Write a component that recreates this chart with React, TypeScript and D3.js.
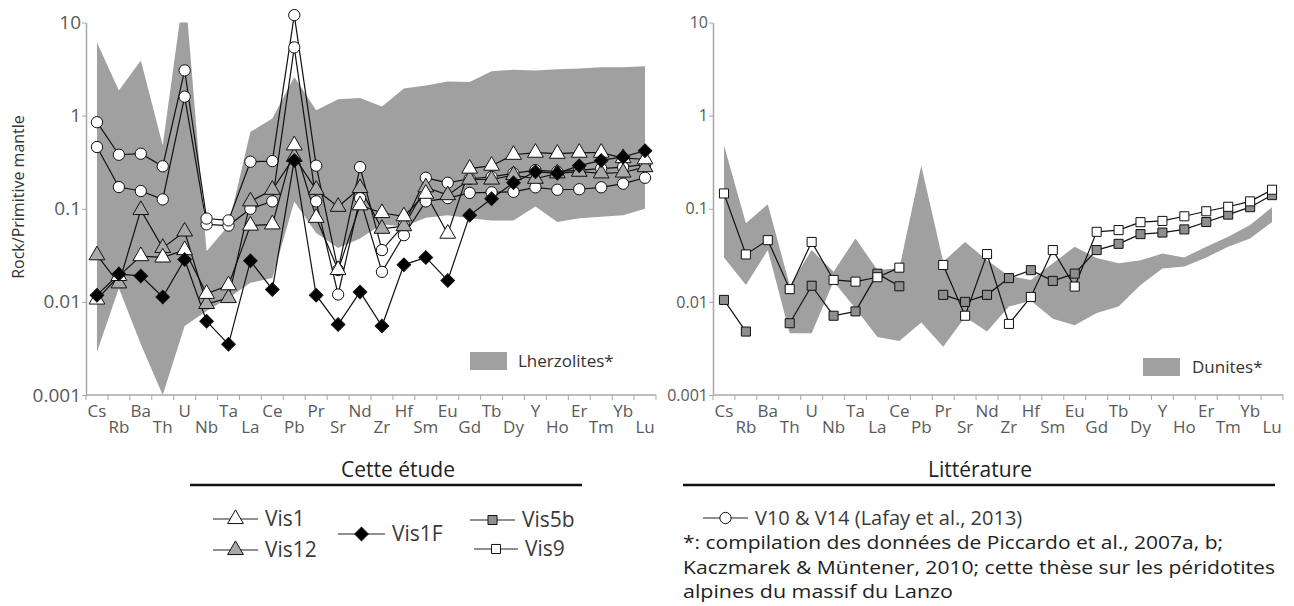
import { useEffect, useRef } from "react";
import * as d3 from "d3";

const elements = [
  "Cs", "Rb", "Ba", "Th", "U", "Nb", "Ta", "La", "Ce", "Pb", "Pr", "Sr", "Nd",
  "Zr", "Hf", "Sm", "Eu", "Gd", "Tb", "Dy", "Y", "Ho", "Er", "Tm", "Yb", "Lu",
];

const yTicks = [0.001, 0.01, 0.1, 1, 10];
const yTickLabels = ["0.001", "0.01", "0.1", "1", "10"];

// Lherzolites envelope (left panel)
const lherzoliteMax = [6.1, 1.86, 3.9, 0.48, 25, 0.035, 0.066, 0.67, 0.93, 2.6, 1.14, 1.5, 1.55,
  1.25, 1.96, 2.1, 2.33, 2.3, 3.0, 3.1, 3.06, 3.15, 3.2, 3.3, 3.3, 3.4];
const lherzoliteMin = [0.0029, 0.014, 0.0035, 0.001, 0.0055, 0.008, 0.011, 0.016, 0.018, 0.12, 0.055, 0.038, 0.048,
  0.068, 0.064, 0.08, 0.085, 0.079, 0.075, 0.075, 0.106, 0.072, 0.079, 0.082, 0.085, 0.1];

// Cette étude
const vis1 = [0.0106, 0.019, 0.031, 0.03, 0.036, 0.0122, 0.0151, 0.066, 0.068, 0.48, 0.08, 0.022, 0.109,
  0.09, 0.083, 0.145, 0.054, 0.27, 0.29, 0.38, 0.4, 0.39, 0.4, 0.4, 0.35, 0.34];
const vis12 = [0.0317, 0.0158, 0.097, 0.038, 0.057, 0.0095, 0.011, 0.12, 0.16, 0.36, 0.16, 0.105, 0.167,
  0.061, 0.065, 0.17, 0.14, 0.206, 0.206, 0.23, 0.21, 0.24, 0.25, 0.24, 0.245, 0.28];
const vis1F = [0.0118, 0.0199, 0.019, 0.0113, 0.0285, 0.0062, 0.0035, 0.0276, 0.0136, 0.33, 0.0118, 0.0057, 0.0128,
  0.0055, 0.025, 0.03, 0.017, 0.085, 0.128, 0.19, 0.25, 0.24, 0.29, 0.33, 0.36, 0.42];

// Littérature (Lafay et al., 2013)
const v14 = [0.85, 0.38, 0.39, 0.286, 3.06, 0.0785, 0.075, 0.32, 0.325, 12, 0.29, 0.022, 0.28,
  0.036, 0.067, 0.215, 0.19, 0.21, 0.22, 0.24, 0.26, 0.25, 0.26, 0.27, 0.28, 0.3];
const v10 = [0.46, 0.171, 0.155, 0.126, 1.6, 0.068, 0.066, 0.1, 0.12, 5.4, 0.12, 0.012, 0.13,
  0.021, 0.052, 0.12, 0.13, 0.148, 0.15, 0.152, 0.17, 0.16, 0.162, 0.17, 0.186, 0.215];

// Dunites envelope (right panel)
const duniteMax = [0.48, 0.07, 0.112, 0.015, 0.036, 0.021, 0.048, 0.022, 0.023, 0.29, 0.027, 0.044, 0.028,
  0.019, 0.0172, 0.026, 0.039, 0.0295, 0.026, 0.028, 0.033, 0.03, 0.039, 0.05, 0.067, 0.104];
const duniteMin = [0.03, 0.0152, 0.036, 0.0046, 0.0046, 0.0165, 0.0085, 0.0042, 0.0038, 0.006, 0.0033, 0.0069, 0.0048,
  0.0089, 0.0103, 0.0066, 0.0056, 0.0076, 0.0089, 0.0152, 0.0228, 0.024, 0.03, 0.039, 0.048, 0.072];

const vis5b = [0.0105, 0.0048, null, 0.0059, 0.0149, 0.0071, 0.0079, 0.0201, 0.0147, null, 0.0119, 0.01, 0.0119,
  0.018, 0.0219, 0.0168, 0.0201, 0.036, 0.042, 0.0534, 0.0555, 0.06, 0.072, 0.0865, 0.104, 0.14];
const vis9 = [0.146, 0.0323, 0.046, 0.0137, 0.044, 0.0172, 0.0165, 0.0184, 0.0233, null, 0.0249, 0.0071, 0.0326,
  0.0058, 0.0113, 0.036, 0.0146, 0.0565, 0.059, 0.0718, 0.074, 0.083, 0.094, 0.105, 0.12, 0.16];

const notes = [
  "*: compilation des données de Piccardo et al., 2007a, b;",
  "Kaczmarek & Müntener, 2010; cette thèse sur les péridotites",
  "alpines du massif du Lanzo",
];
const noteWidths = [540, 592, 270];

const BAND = "#a0a0a0";
const AXIS = "#a8a8a8";
const TICK_TEXT = "#5a5a5a";
const FONT = "'Open Sans', sans-serif";

type Marker = "triangle" | "diamond" | "circle" | "square";
interface Series {
  values: (number | null)[];
  marker: Marker;
  fill: string;
}

const symbolFor = (m: Marker) => {
  if (m === "triangle") return d3.symbol().type(d3.symbolTriangle).size(108)();
  if (m === "circle") return d3.symbol().type(d3.symbolCircle).size(100)();
  if (m === "diamond") return d3.symbol().type(d3.symbolSquare).size(92)();
  return d3.symbol().type(d3.symbolSquare).size(82)();
};

function drawMarker(g: any, m: Marker, x: number, y: number, fill: string) {
  g.append("path")
    .attr("d", symbolFor(m))
    .attr("transform", `translate(${x},${y})${m === "diamond" ? " rotate(45)" : ""}`)
    .attr("fill", fill)
    .attr("stroke", "#111")
    .attr("stroke-width", 1);
}

function drawPanel(svg: any, id: string, x0: number, x1: number, yFont: number,
  bandMax: number[], bandMin: number[], series: Series[]) {
  const top = 22.5;
  const bottom = 395;
  const x = d3.scaleBand<string>().domain(elements).range([x0, x1]);
  const cx = (i: number) => (x(elements[i]) || 0) + x.bandwidth() / 2;
  const y = d3.scaleLog().domain([0.001, 10]).range([bottom, top]);

  svg.append("clipPath").attr("id", id)
    .append("rect").attr("x", x0).attr("y", top).attr("width", x1 - x0).attr("height", bottom - top);

  const area = d3.area<number>()
    .x((_, i) => cx(i))
    .y0((_, i) => y(bandMin[i]))
    .y1((d) => y(d));
  svg.append("path")
    .attr("d", area(bandMax))
    .attr("fill", BAND)
    .attr("clip-path", `url(#${id})`);

  // y axis
  const ya = svg.append("g")
    .attr("transform", `translate(${x0},0)`)
    .call(d3.axisLeft(y).tickValues(yTicks).tickFormat((_, i) => yTickLabels[i]).tickSize(4).tickSizeOuter(0));
  ya.select(".domain").attr("stroke", AXIS).attr("stroke-width", 1.5);
  ya.selectAll(".tick line").attr("stroke", AXIS);
  ya.selectAll(".tick text")
    .attr("fill", TICK_TEXT)
    .attr("font-size", yFont)
    .attr("font-family", FONT)
    .attr("x", -5);

  // x axis, ticks between categories
  svg.append("line")
    .attr("x1", x0).attr("x2", x1).attr("y1", bottom).attr("y2", bottom)
    .attr("stroke", AXIS).attr("stroke-width", 1.5);
  const edges = elements.map((e) => x(e) || 0).concat([x1]);
  svg.selectAll(null).data(edges).enter().append("line")
    .attr("x1", (d: number) => d).attr("x2", (d: number) => d)
    .attr("y1", bottom).attr("y2", bottom + 5)
    .attr("stroke", AXIS);
  svg.selectAll(null).data(elements).enter().append("text")
    .attr("x", (_: string, i: number) => cx(i))
    .attr("y", (_: string, i: number) => (i % 2 === 0 ? 417 : 433))
    .attr("text-anchor", "middle")
    .attr("fill", TICK_TEXT)
    .attr("font-size", 17)
    .attr("font-family", FONT)
    .text((d: string) => d);

  const line = d3.line<number | null>()
    .defined((d) => d != null)
    .x((_, i) => cx(i))
    .y((d) => y(d as number));

  series.forEach((s) => {
    svg.append("path")
      .attr("d", line(s.values))
      .attr("fill", "none")
      .attr("stroke", "#111")
      .attr("stroke-width", 1.2);
  });
  series.forEach((s) => {
    const g = svg.append("g");
    s.values.forEach((v, i) => {
      if (v != null) drawMarker(g, s.marker, cx(i), y(v), s.fill);
    });
  });
}

function legendItem(svg: any, m: Marker, fill: string, xl: number, xr: number, yy: number, label: string, size = 21) {
  svg.append("line").attr("x1", xl).attr("x2", xr).attr("y1", yy).attr("y2", yy)
    .attr("stroke", "#222").attr("stroke-width", 1.2);
  drawMarker(svg, m, (xl + xr) / 2, yy, fill);
  svg.append("text")
    .attr("x", xr + 7).attr("y", yy + 7)
    .attr("font-size", size).attr("font-family", FONT).attr("fill", "#3a3a3a")
    .text(label);
}

export default function App() {
  const ref = useRef<SVGSVGElement>(null);

  useEffect(() => {
    if (!ref.current) return;
    const svg = d3.select(ref.current);
    svg.selectAll("*").remove();

    drawPanel(svg, "clipL", 86, 656, 19, lherzoliteMax, lherzoliteMin, [
      { values: v10, marker: "circle", fill: "#fff" },
      { values: v14, marker: "circle", fill: "#fff" },
      { values: vis12, marker: "triangle", fill: "#a9a9a9" },
      { values: vis1, marker: "triangle", fill: "#fff" },
      { values: vis1F, marker: "diamond", fill: "#000" },
    ]);
    drawPanel(svg, "clipR", 713, 1283, 16, duniteMax, duniteMin, [
      { values: vis5b, marker: "square", fill: "#8e8e8e" },
      { values: vis9, marker: "square", fill: "#fff" },
    ]);

    svg.append("text")
      .attr("transform", "translate(24,197) rotate(-90)")
      .attr("text-anchor", "middle")
      .attr("font-size", 16).attr("font-family", FONT).attr("fill", "#333")
      .text("Rock/Primitive mantle");

    // envelope legends
    svg.append("rect").attr("x", 470).attr("y", 352).attr("width", 37).attr("height", 18).attr("fill", BAND);
    svg.append("text").attr("x", 518).attr("y", 367).attr("font-size", 17).attr("font-family", FONT)
      .attr("fill", "#333").text("Lherzolites*");
    svg.append("rect").attr("x", 1143).attr("y", 358).attr("width", 37).attr("height", 18).attr("fill", BAND);
    svg.append("text").attr("x", 1192).attr("y", 373).attr("font-size", 17).attr("font-family", FONT)
      .attr("fill", "#333").text("Dunites*");

    // bottom legend: Cette étude
    svg.append("text").attr("x", 398).attr("y", 477).attr("text-anchor", "middle")
      .attr("font-size", 21).attr("font-family", FONT).attr("fill", "#222").text("Cette étude");
    svg.append("line").attr("x1", 190).attr("x2", 582).attr("y1", 485).attr("y2", 485)
      .attr("stroke", "#111").attr("stroke-width", 2.5);
    legendItem(svg, "triangle", "#fff", 213, 258, 519, "Vis1");
    legendItem(svg, "triangle", "#a9a9a9", 213, 258, 550, "Vis12");
    legendItem(svg, "diamond", "#000", 338, 385, 534, "Vis1F");
    legendItem(svg, "square", "#8e8e8e", 470, 515, 520, "Vis5b");
    legendItem(svg, "square", "#fff", 474, 518, 549, "Vis9");

    // bottom legend: Littérature
    svg.append("text").attr("x", 980).attr("y", 477).attr("text-anchor", "middle")
      .attr("font-size", 21).attr("font-family", FONT).attr("fill", "#222").text("Littérature");
    svg.append("line").attr("x1", 683).attr("x2", 1275).attr("y1", 485).attr("y2", 485)
      .attr("stroke", "#111").attr("stroke-width", 2.5);
    legendItem(svg, "circle", "#fff", 703, 748, 518, "V10 & V14 (Lafay et al., 2013)", 20);
    notes.forEach((t, i) => {
      svg.append("text").attr("x", 683).attr("y", 549 + i * 24.5)
        .attr("font-size", 18).attr("font-family", FONT).attr("fill", "#222")
        .attr("textLength", noteWidths[i]).attr("lengthAdjust", "spacingAndGlyphs")
        .text(t);
    });
  }, []);

  return (
    <svg
      ref={ref}
      width={1294}
      height={606}
      style={{ position: "absolute", left: 0, top: 0, background: "#fff" }}
    />
  );
}
